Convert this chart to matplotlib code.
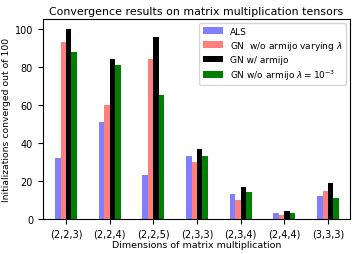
import numpy as np
import matplotlib.pyplot as plt

# ── Data ──────────────────────────────────────────────────────────────────────
dims = ["(2,2,3)", "(2,2,4)", "(2,2,5)", "(2,3,3)", "(2,3,4)", "(2,4,4)", "(3,3,3)"]
als = [32, 51, 23, 33, 13, 3, 12]
gn_varying = [93, 60, 84, 30, 10, 2, 15]
gn_armijo = [100, 84, 96, 37, 17, 4, 19]
gn_fixed = [88, 81, 65, 33, 14, 3, 11]

labels = ["ALS", r"GN  w/o armijo varying $\lambda$", "GN w/ armijo",
          r"GN w/o armijo $\lambda = 10^{-3}$"]
colors = [(0, 0, 1, 0.5), (1, 0, 0, 0.5), "black", "green"]

fig, ax = plt.subplots(figsize=(3.57, 2.55), dpi=100)
x = np.arange(len(dims))
w = 0.125
for i, (vals, lab, c) in enumerate(zip([als, gn_varying, gn_armijo, gn_fixed], labels, colors)):
    ax.bar(x + (i - 1.5) * w, vals, width=w, color=c, label=lab)

ax.set_xticks(x)
ax.set_xticklabels(dims, fontsize=7)
ax.tick_params(axis="y", labelsize=7)
ax.set_xlim(-0.53, 6.5)
ax.set_ylim(0, 105)
ax.set_xlabel("Dimensions of matrix multiplication", fontsize=6.8, labelpad=1)
ax.set_ylabel("Initializations converged out of 100", fontsize=6.7, labelpad=3)
ax.set_title("Convergence results on matrix multiplication tensors", fontsize=7.9, pad=4)
ax.legend(loc="upper right", fontsize=6.5, labelspacing=0.35, handlelength=2.2,
          borderaxespad=0.4)

fig.subplots_adjust(left=0.12, right=0.98, top=0.92, bottom=0.137)
fig.savefig("out.png", dpi=100)
